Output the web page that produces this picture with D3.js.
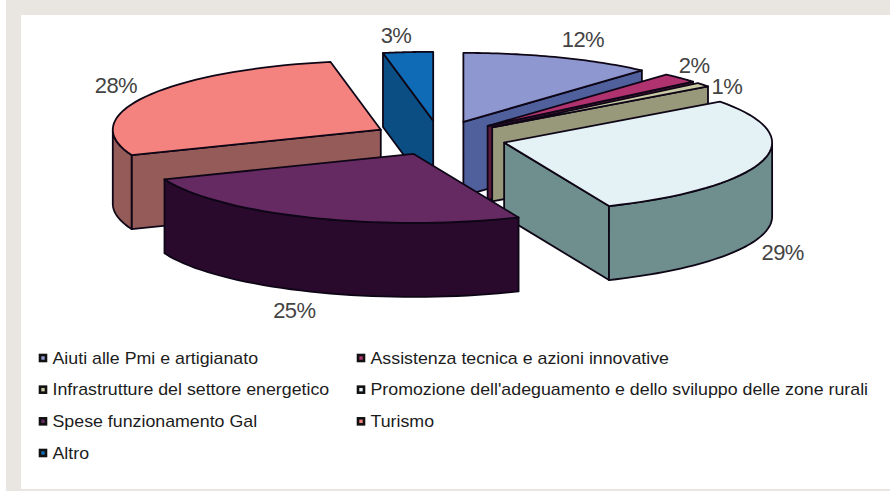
<!DOCTYPE html>
<html><head><meta charset="utf-8">
<script src="https://cdn.jsdelivr.net/npm/d3@7"></script>
<style>html,body{margin:0;padding:0;background:#fff}svg{display:block}</style></head>
<body><svg id="c" width="890" height="491"></svg>
<script>
const categories = ["Aiuti alle Pmi e artigianato","Assistenza tecnica e azioni innovative","Infrastrutture del settore energetico","Promozione dell'adeguamento e dello sviluppo delle zone rurali","Spese funzionamento Gal","Turismo","Altro"];
const values = [11.6,2.3,1,28.7,25.4,28,3];
const topColors = ["#8f97d0","#b0326f","#c9c9a4","#e5f2f5","#662a63","#f4827e","#0f6bb6"];
const sideColors = ["#4f609c","#5b1a3c","#98987a","#6f8e8e","#2a0a2c","#955b58","#0b4e84"];
const legendColumns = [[0,2,4,6],[1,3,5]];

const W=890,H=491;
const svg=d3.select("#c");
svg.append("rect").attr("width",W).attr("height",H).attr("fill","#fff");
svg.append("rect").attr("x",6).attr("width",W-6).attr("height",15).attr("fill","#e9e6e2");
svg.append("rect").attr("x",6).attr("width",15).attr("height",H).attr("fill","#e9e6e2");
svg.append("rect").attr("x",6).attr("y",489).attr("width",W-6).attr("height",2).attr("fill","#e9e6e2");

// unit pie -> pixels
const cx=439.5,cy=138,rx=268,ry=69,depth=74,explode=0.25;
const sx=d3.scaleLinear().domain([-1,1]).range([-rx,rx]);
const sy=d3.scaleLinear().domain([-1,1]).range([-ry,ry]);
const slices=d3.pie().sort(null).value(d=>d)(values).map((s,i)=>{
  const mid=(s.startAngle+s.endAngle)/2;
  return {...s,i,mid,ax:cx+sx(explode*Math.sin(mid)),ay:cy+sy(-explode*Math.cos(mid))};
});
const rim=(s,t)=>[s.ax+sx(Math.sin(t)),s.ay+sy(-Math.cos(t))];
const arcPts=(s,a,b)=>d3.range(0,41).map(k=>rim(s,a+(b-a)*k/40));
const line=d3.line();
const down=p=>[p[0],p[1]+depth];
const g=svg.append("g").attr("stroke","#0e0616").attr("stroke-width",1.8).attr("stroke-linejoin","round");
const PI=Math.PI;
function quad(s,t){const p=rim(s,t);const a=[s.ax,s.ay];
  g.append("path").attr("d",line([a,p,down(p),down(a)])+"Z").attr("fill",sideColors[s.i]);}
[...slices].sort((a,b)=>a.ay-b.ay).forEach(s=>{
  const a=s.startAngle,b=s.endAngle;
  if(a>PI&&a<2*PI)quad(s,a);
  if(b>0&&b<PI)quad(s,b);
  const wa=Math.max(a,PI/2),wb=Math.min(b,3*PI/2);
  if(wb>wa){const pts=arcPts(s,wa,wb);
    g.append("path").attr("d",line([...pts,...pts.slice().reverse().map(down)])+"Z").attr("fill",sideColors[s.i]);}
  g.append("path").attr("d",line([[s.ax,s.ay],...arcPts(s,a,b)])+"Z").attr("fill",topColors[s.i]);
});

// percentage labels
const labelNudge=[[24,-18],[14,-13],[24,1],[20,17],[-16,18],[-30,-11],[-12,-17]];
const labels=svg.append("g").attr("font-family","'Liberation Sans',Arial,sans-serif").attr("font-size",22).attr("fill","#444").attr("text-anchor","middle").attr("letter-spacing",-0.6);
slices.forEach(s=>{
  const p=rim(s,s.mid);const front=Math.cos(s.mid)<0;
  labels.append("text").attr("x",p[0]+labelNudge[s.i][0]).attr("y",p[1]+(front?depth:0)+labelNudge[s.i][1]+8).text(Math.round(values[s.i])+"%");
});

// legend
const colX=d3.scalePoint().domain([0,1]).range([43,361]);
const rowY=d3.scaleLinear().domain([0,3]).range([358,453]);
const leg=svg.append("g").attr("font-family","'Liberation Sans',Arial,sans-serif").attr("font-size",16).attr("fill","#1c1c1c");
const stretch=1.112;
legendColumns.forEach((col,c)=>col.forEach((idx,r)=>{
  const x=colX(c),y=rowY(r);
  leg.append("rect").attr("x",x-3).attr("y",y-3).attr("width",6).attr("height",6).attr("fill",topColors[idx]).attr("stroke","#111").attr("stroke-width",2.6);
  leg.append("text").attr("transform",`translate(${x+9.5},${y+5.5}) scale(${stretch},1)`).text(categories[idx]);
}));
</script></body></html>
